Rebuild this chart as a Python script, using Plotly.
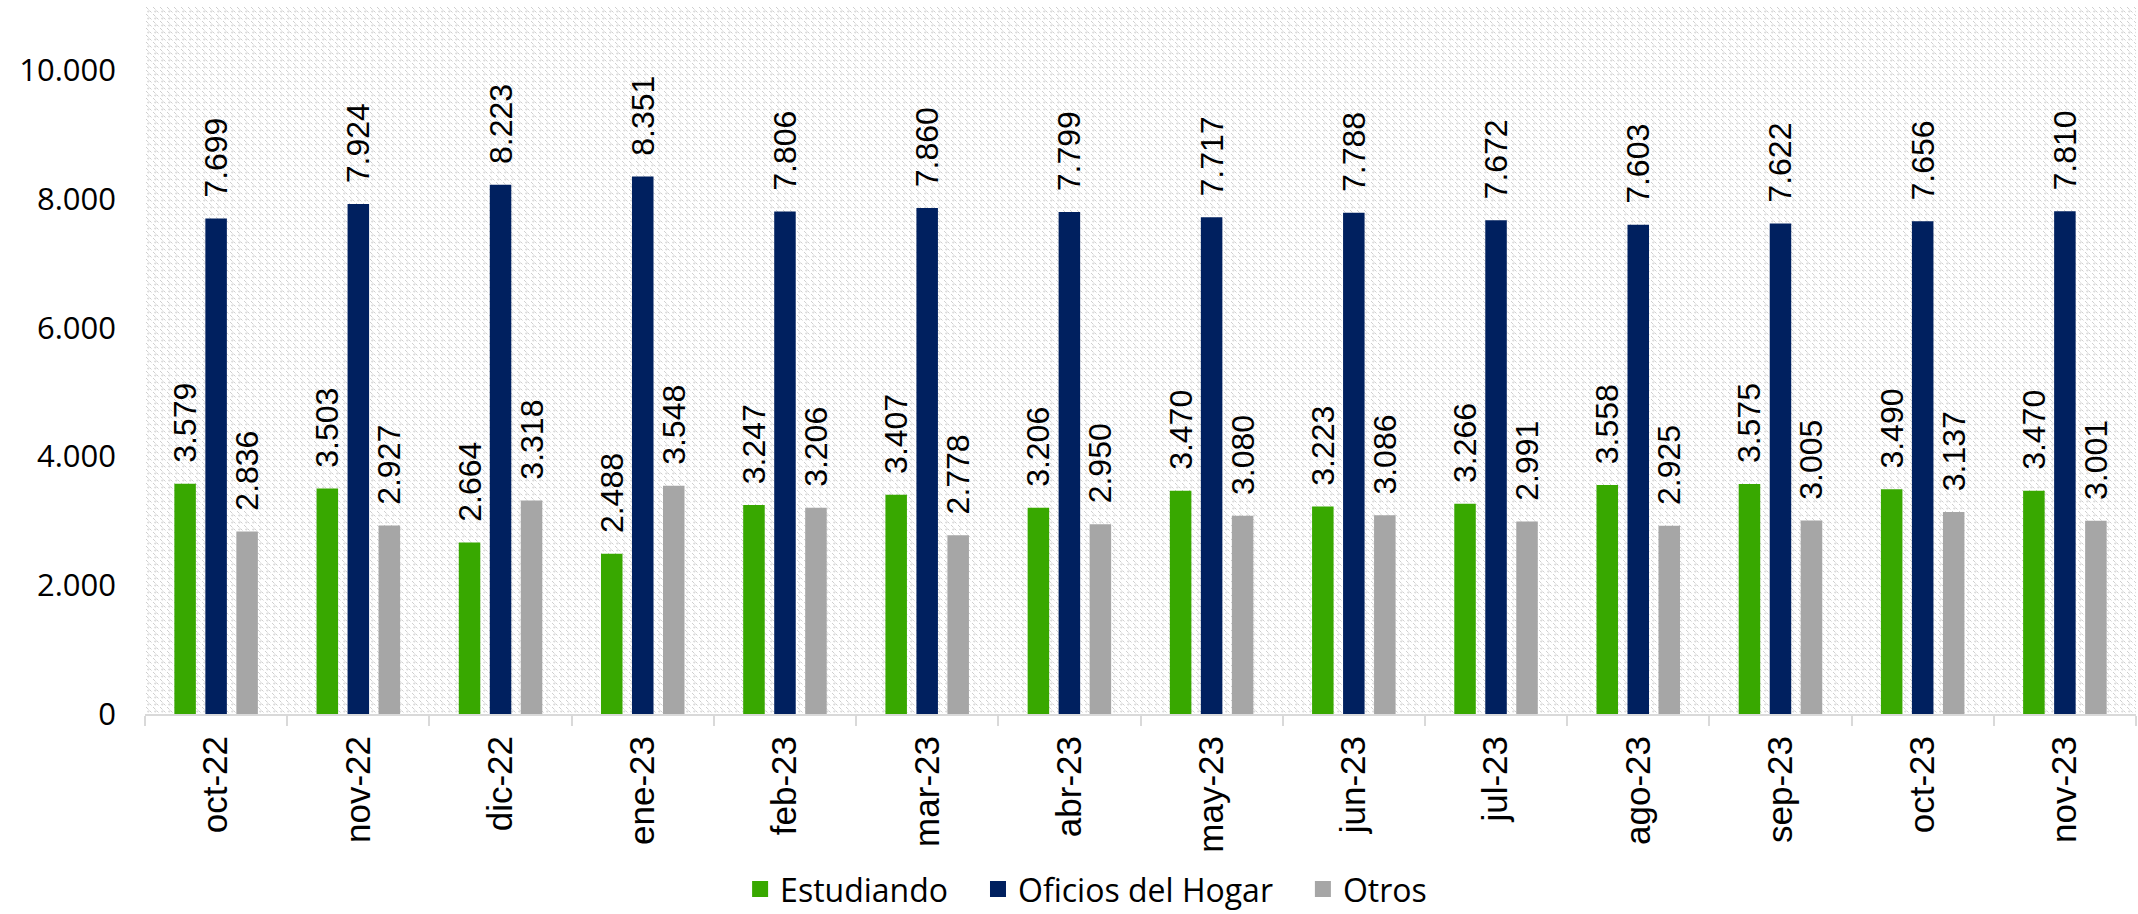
import base64
import plotly.graph_objects as go

months = ["oct-22", "nov-22", "dic-22", "ene-23", "feb-23", "mar-23", "abr-23",
          "may-23", "jun-23", "jul-23", "ago-23", "sep-23", "oct-23", "nov-23"]
estudiando = [3579, 3503, 2664, 2488, 3247, 3407, 3206, 3470, 3223, 3266, 3558, 3575, 3490, 3470]
oficios_hogar = [7699, 7924, 8223, 8351, 7806, 7860, 7799, 7717, 7788, 7672, 7603, 7622, 7656, 7810]
otros = [2836, 2927, 3318, 3548, 3206, 2778, 2950, 3080, 3086, 2991, 2925, 3005, 3137, 3001]

series = [
    ("Estudiando", estudiando, "#38A800"),
    ("Oficios del Hogar", oficios_hogar, "#00205F"),
    ("Otros", otros, "#A6A6A6"),
]

W, H = 2138, 914
L, R, T, B = 145, 2, 6, 200
PW, PH = W - L - R, H - T - B

svg = (
    f'<svg xmlns="http://www.w3.org/2000/svg" width="{PW}" height="{PH}">'
    '<defs><pattern id="p" width="7" height="7" patternUnits="userSpaceOnUse">'
    '<rect width="7" height="7" fill="#ffffff"/>'
    '<path d="M1,1 L3.5,3.5 M4.5,4.5 L6.5,6.5" stroke="#cfcfcf" stroke-width="1"/>'
    '<path d="M2,5.5 h2.5 M3.25,4.25 v2.5" stroke="#d9d9d9" stroke-width="0.8"/>'
    '</pattern></defs>'
    '<rect width="100%" height="100%" fill="url(#p)"/></svg>'
)
src = "data:image/svg+xml;base64," + base64.b64encode(svg.encode()).decode()

NB = "\u00a0"
legend_names = ["Estudiando" + NB * 3, "Oficios del Hogar" + NB * 3, "Otros"]

fig = go.Figure()
for name, vals, color in series:
    fig.add_trace(go.Bar(
        x=months, y=vals, name=name, marker=dict(color=color, line=dict(width=0)),
        texttemplate=NB + NB + "%{y:,d}", textposition="outside", textangle=-90,
        constraintext="none",
        textfont=dict(family="Liberation Sans, Arial, sans-serif", size=32, color="#000000"),
        cliponaxis=False, showlegend=False,
    ))
for (name, vals, color), lname in zip(series, legend_names):
    fig.add_trace(go.Scatter(
        x=[None], y=[None], name=lname, mode="markers",
        marker=dict(symbol="square", size=17, color=color), showlegend=True,
    ))

fig.update_layout(
    width=W, height=H,
    margin=dict(l=L, r=R, t=T, b=B, pad=0, autoexpand=False),
    paper_bgcolor="white", plot_bgcolor="white",
    separators=",.",
    barmode="group", bargap=0.346, bargroupgap=0.306,
    images=[dict(source=src, xref="paper", yref="paper", x=0, y=1, sizex=1, sizey=1,
                 xanchor="left", yanchor="top", sizing="stretch", layer="below")],
    legend=dict(orientation="h", xref="container", x=0.508, xanchor="center",
                yref="container", y=0.027, yanchor="middle",
                font=dict(family="Open Sans, sans-serif", size=32, color="#000000"),
                itemsizing="trace", tracegroupgap=0, bgcolor="rgba(0,0,0,0)"),
    xaxis=dict(type="category", tickangle=-90, ticks="outside", tickson="boundaries",
               ticklen=10, tickwidth=2, tickcolor="#d9d9d9", automargin=False,
               showline=True, linecolor="#d9d9d9", linewidth=2,
               showgrid=False, zeroline=False, ticklabelstandoff=6,
               tickfont=dict(family="Liberation Sans, Arial, sans-serif", size=35, color="#000000")),
    yaxis=dict(range=[0, 11000], tickvals=[0, 2000, 4000, 6000, 8000, 10000],
               tickformat=",d", showgrid=False, zeroline=False, showline=False,
               ticks="", ticklabelstandoff=28, automargin=False,
               tickfont=dict(family="Open Sans, sans-serif", size=31, color="#000000")),
)

fig.write_html("out.html", config={"displayModeBar": False},
               post_script="document.body.style.margin='0px';document.body.style.overflow='hidden';")
